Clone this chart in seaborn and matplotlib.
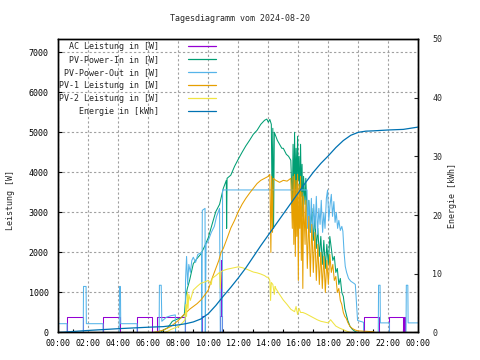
import matplotlib
matplotlib.use("Agg")
import matplotlib.pyplot as plt
import seaborn as sns

# Tageswerte (Stunden seit 00:00, Werte in W bzw. kWh)
pv_in_t = [0, 6.8, 7.0, 7.3, 7.6, 7.9, 8.2, 8.4, 8.5, 8.6, 8.75, 9.0, 9.25, 9.5, 9.75, 10.0, 10.25,
           10.5, 10.75, 11.0, 11.2, 11.22, 11.25, 11.5, 11.75, 12.0, 12.25, 12.5, 12.75, 13.0, 13.25,
           13.5, 13.75, 13.9, 14.0, 14.1, 14.2, 14.25, 14.3, 14.35, 14.4, 14.5, 14.6, 14.75, 14.9,
           15.0, 15.2, 15.35, 15.5, 15.6, 15.65, 15.7, 15.75, 15.8, 15.85, 15.9, 15.95, 16.0, 16.05,
           16.1, 16.15, 16.2, 16.25, 16.3, 16.35, 16.45, 16.5, 16.6, 16.7, 16.8, 16.9, 17.0, 17.1,
           17.2, 17.3, 17.4, 17.5, 17.6, 17.7, 17.8, 17.9, 18.0, 18.1, 18.2, 18.3, 18.4, 18.5, 18.6,
           18.7, 18.8, 18.9, 19.0, 19.1, 19.2, 19.3, 19.45, 19.6, 19.8, 20.0, 24.0]
pv_in_w = [0, 0, 60, 120, 280, 330, 370, 450, 900, 1100, 1300, 1720, 1850, 1960, 2150, 2370, 2700,
           3020, 3200, 3600, 3800, 2600, 3850, 3930, 4150, 4330, 4500, 4660, 4800, 4950, 5050,
           5200, 5300, 5330, 5250, 5320, 5200, 3300, 5100, 2600, 5000, 4900, 4800, 4700, 4600,
           4600, 4450, 4400, 4300, 3200, 4700, 3000, 5000, 3300, 4600, 3500, 4900, 3800, 4400,
           3100, 4700, 3400, 4200, 2900, 3900, 3200, 3850, 2800, 3300, 2500, 3100, 2300, 2900,
           2100, 2600, 1900, 2400, 1700, 2300, 1600, 2200, 1700, 2400, 2100, 1800, 1900, 1500, 1600,
           1200, 1350, 1000, 900, 600, 450, 300, 150, 80, 20, 0, 0]

pv_out_t = [0, 0.58, 0.58, 1.66, 1.68, 1.85, 1.87, 2.98, 2.98, 4.06, 4.08, 4.14, 4.16, 5.25, 5.25,
            6.72, 6.74, 6.86, 6.9, 7.2, 7.5, 7.8, 7.82, 8.46, 8.48, 8.55, 8.62, 8.7, 8.8, 8.9, 9.0,
            9.15, 9.3, 9.55, 9.56, 9.6, 9.78, 9.8, 9.85, 10.0, 10.2, 10.4, 10.55, 10.75, 10.8, 10.93,
            10.95, 16.58, 16.62, 16.7, 16.78, 16.87, 16.95, 17.03, 17.12, 17.2, 17.28, 17.37, 17.45,
            17.53, 17.62, 17.7, 17.78, 17.87, 17.95, 18.03, 18.12, 18.2, 18.28, 18.37, 18.45, 18.53,
            18.62, 18.7, 18.8, 18.9, 18.97, 19.05, 19.13, 19.22, 19.35, 19.5, 19.7, 19.8, 19.95,
            20.35, 20.35, 21.33, 21.35, 21.45, 21.47, 22.07, 22.07, 23.18, 23.2, 23.3, 23.32, 24.0]
pv_out_w = [220, 220, 0, 0, 1150, 1150, 220, 220, 0, 0, 1150, 1150, 220, 220, 0,
            0, 1180, 1180, 280, 380, 420, 440, 0, 0, 1300, 1900, 1200, 1700, 1500, 1800, 1880,
            1750, 1950, 2000, 0, 3050, 3100, 0, 2200, 2300, 2500, 2650, 2900, 3100, 0, 0,
            3560, 3560, 2600, 3300, 2500, 3350, 2400, 3200, 2600, 3400, 2450, 3100, 2700,
            3300, 2500, 3000, 2600, 3350, 3560, 2800, 3200, 3450, 2900, 3270, 2750, 3000,
            2600, 2800, 2550, 2650, 2530, 2000, 1650, 1500, 1350, 1280, 1230, 1200, 300,
            255, 0, 0, 1180, 1180, 240, 240, 0, 0, 1180, 1180, 240, 240]

# AC-Leistung: nur die sichtbaren Stuecke, dazwischen auf der Nulllinie (unter der Achse)
ac_t = [0, 0.58, 0.58, 1.65, 1.65, 2.98, 2.98, 4.08, 4.08, 5.25, 5.25, 6.22, 6.22, 6.6, 6.6, 8.47, 8.47,
        9.56, 9.56, 9.8, 9.8, 10.8, 10.8, 10.87, 10.87, 10.87, 10.93, 10.93,
        20.35, 20.35, 21.35, 21.35, 22.07, 22.07, 22.98, 22.98, 23.02, 23.02, 23.1, 23.1, 24.0]
ac_w = [0, 0, 390, 390, 0, 0, 390, 390, 0, 0, 390, 390, 0, 0, 390, 390, 0,
        0, 400, 400, 0, 0, 400, 400, 1800, 400, 400, 0,
        0, 385, 385, 0, 0, 385, 385, 0, 0, 385, 385, 0, 0]

pv1_t = [0, 6.3, 6.6, 7.0, 7.5, 8.0, 8.3, 8.5, 8.75, 9.0, 9.25, 9.5, 9.75, 10.0, 10.2, 10.4, 10.55,
         10.7, 10.85, 11.0, 11.25, 11.5, 11.75, 12.0, 12.25, 12.5, 12.75, 13.0, 13.25, 13.5, 13.75,
         14.0, 14.1, 14.17, 14.22, 14.28, 14.33, 14.5, 14.75, 15.0, 15.25, 15.5, 15.6, 15.65, 15.7,
         15.75, 15.8, 15.85, 15.9, 15.95, 16.0, 16.05, 16.1, 16.15, 16.2, 16.25, 16.3, 16.35, 16.45,
         16.5, 16.6, 16.7, 16.8, 16.9, 17.0, 17.1, 17.2, 17.3, 17.4, 17.5, 17.6, 17.7, 17.8, 17.9,
         18.0, 18.1, 18.2, 18.3, 18.4, 18.5, 18.6, 18.7, 18.8, 18.9, 19.0, 19.1, 19.2, 19.3, 19.45,
         19.6, 19.8, 20.0, 20.5, 21.0, 21.1, 24.0]
pv1_w = [0, 0, 20, 60, 150, 300, 420, 490, 580, 650, 720, 810, 930, 1060, 1300, 1500, 1650,
         1800, 2000, 2100, 2350, 2610, 2800, 3020, 3200, 3350, 3480, 3600, 3720, 3800, 3850,
         3900, 3950, 2000, 3900, 2500, 3850, 3800, 3750, 3800, 3780, 3850, 2600, 3900, 2200,
         3950, 1900, 3800, 2400, 3950, 1300, 3700, 2600, 3900, 1800, 3500, 1100, 3400, 2200,
         3300, 1600, 2900, 1400, 2700, 1500, 2500, 1300, 2200, 1200, 2000, 1100, 1900, 1000, 1800,
         1200, 1950, 1500, 1700, 1300, 1400, 1000, 1100, 800, 700, 500, 400, 350, 250, 150,
         100, 60, 40, 30, 20, 0, 0]

pv2_t = [0, 7.0, 7.3, 7.5, 8.0, 8.3, 8.45, 8.5, 8.55, 8.6, 8.65, 8.7, 8.8, 9.0, 9.25, 9.5, 9.75,
         10.0, 10.2, 10.25, 10.5, 10.75, 10.8, 10.85, 11.0, 11.25, 11.5, 11.75, 12.0, 12.25, 12.5,
         12.75, 13.0, 13.25, 13.5, 13.75, 13.9, 14.0, 14.1, 14.15, 14.2, 14.3, 14.4, 14.45, 14.5,
         14.75, 15.0, 15.25, 15.5, 15.75, 15.85, 15.95, 16.05, 16.15, 16.3, 16.5, 16.75, 17.0,
         17.25, 17.5, 17.75, 18.0, 18.15, 18.3, 18.5, 18.75, 19.0, 19.25, 19.5, 24.0]
pv2_w = [0, 0, 30, 75, 150, 250, 320, 700, 400, 1000, 600, 950, 800, 1060, 1150, 1230, 1260,
         1300, 1200, 1350, 1420, 1500, 1100, 1520, 1550, 1580, 1600, 1620, 1640, 1620, 1590,
         1550, 1510, 1490, 1460, 1420, 1380, 1380, 1300, 800, 1250, 1200, 950, 1150, 1100,
         950, 810, 700, 580, 520, 650, 450, 600, 500, 500, 470, 420, 370,
         320, 280, 260, 240, 320, 250, 160, 110, 70, 30, 0, 0]

energie_t = [0, 2, 4, 6, 7, 8, 8.5, 9, 9.5, 10, 10.5, 11, 11.5, 12, 12.5, 13, 13.5, 14, 14.5, 15,
             15.5, 16, 16.5, 17, 17.5, 18, 18.5, 19, 19.5, 20, 20.5, 21, 22, 23, 24]
energie_kwh = [0, 0.35, 0.65, 0.9, 1.0, 1.3, 1.5, 1.8, 2.3, 3.2, 4.6, 6.2, 7.7, 9.3, 11.0, 12.9,
               14.8, 16.6, 18.4, 20.2, 22.0, 23.8, 25.6, 27.3, 28.8, 30.1, 31.5, 32.7, 33.6, 34.1,
               34.3, 34.35, 34.5, 34.6, 35.0]

x_ticks = list(range(0, 25, 2))
x_labels = ["%02d:00" % (h % 24) for h in x_ticks]

sns.set_theme(style="white")
plt.rcParams["font.family"] = ["DejaVu Sans Mono"]
plt.rcParams["font.size"] = 6

fig = plt.figure(figsize=(4.8, 3.6), dpi=100)
ax = fig.add_axes([0.1215, 0.0764, 0.75, 0.8153])
ax2 = ax.twinx()

lw = 0.75
common = dict(estimator=None, sort=False)
sns.lineplot(x=ac_t, y=ac_w, ax=ax, color="#9400D3", lw=lw, label="AC Leistung in [W]", **common)
sns.lineplot(x=pv_in_t, y=pv_in_w, ax=ax, color="#009E73", lw=lw, label="PV-Power-In in [W]", **common)
sns.lineplot(x=pv_out_t, y=pv_out_w, ax=ax, color="#56B4E9", lw=lw, label="PV-Power-Out in [W]", **common)
sns.lineplot(x=pv1_t, y=pv1_w, ax=ax, color="#E69F00", lw=lw, label="PV-1 Leistung in [W]", **common)
sns.lineplot(x=pv2_t, y=pv2_w, ax=ax, color="#F0E442", lw=lw, label="PV-2 Leistung in [W]", **common)
sns.lineplot(x=energie_t, y=energie_kwh, ax=ax2, color="#0072B2", lw=0.9, label="Energie in [kWh]",
             **common)

ax.set_xlim(0, 24)
ax.set_ylim(0, 7330)
ax2.set_ylim(0, 50)

ax.set_xticks(x_ticks)
ax.set_xticklabels(x_labels)
ax.set_xticks(range(1, 24, 2), minor=True)
ax.set_yticks(range(0, 8000, 1000))
ax2.set_yticks(range(0, 60, 10))

ax.grid(True, color="#a0a0a0", lw=0.8, linestyle=(0, (2, 2)))
ax.tick_params(axis="both", which="both", direction="in", length=3, width=0.8, colors="black",
               labelsize=6)
ax.tick_params(axis="x", which="major", pad=5)
ax.tick_params(axis="y", pad=7)
ax.tick_params(axis="x", which="minor", length=2, bottom=True)
ax2.tick_params(axis="y", direction="in", length=3, width=0.8, pad=10, labelsize=6)
for a in (ax, ax2):
    for s in a.spines.values():
        s.set_color("black")
        s.set_linewidth(1)

ax.set_xlabel("")
ax.set_ylabel("")
ax2.set_ylabel("")
fig.text(0.021, 0.445, "Leistung [W]", rotation=90, ha="center", va="center", fontsize=6)
fig.text(0.943, 0.458, "Energie [kWh]", rotation=90, ha="center", va="center", fontsize=6)
fig.text(0.5, 0.948, "Tagesdiagramm vom 2024-08-20", ha="center", va="center", fontsize=6)

h1, l1 = ax.get_legend_handles_labels()
h2, l2 = ax2.get_legend_handles_labels()
ax.get_legend().remove()
leg = ax2.legend(h1 + h2, l1 + l2, loc="upper right", bbox_to_anchor=(0.447, 1.0), frameon=False,
                 markerfirst=False, handlelength=3.4, handletextpad=3.4, labelspacing=0.48,
                 borderaxespad=0.1, borderpad=0.3, fontsize=6)
for line in leg.get_lines():
    line.set_linewidth(0.9)

fig.savefig("out.png", dpi=100)
